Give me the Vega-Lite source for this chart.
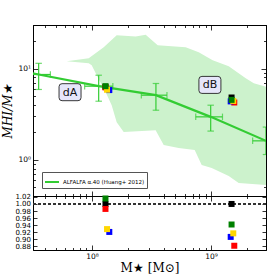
{
  "$schema": "https://vega.github.io/schema/vega-lite/v6.json",
  "background": "white",
  "padding": {"left": 0, "top": 20, "right": 4, "bottom": 0},
  "spacing": 0,
  "bounds": "flush",
  "resolve": {"legend": {"color": "independent", "fill": "independent"}},
  "config": {
    "view": {"stroke": "black", "strokeWidth": 1},
    "axis": {"labelFont": "DejaVu Sans", "labelFontSize": 7.5, "labelColor": "black", "domainColor": "black", "tickColor": "black", "grid": false, "titleFont": "DejaVu Serif", "titleFontWeight": "normal", "titleColor": "black", "labelOverlap": false, "tickWidth": 0.8, "domainWidth": 1}
  },
  "datasets": {
    "region": [
      {"i": 0, "m": 6.14e7, "r": 12.0}, {"i": 1, "m": 9.4e7, "r": 12.96}, {"i": 2, "m": 1.256e8, "r": 17.1},
      {"i": 3, "m": 1.615e8, "r": 23.1}, {"i": 4, "m": 2.33e8, "r": 22.5}, {"i": 5, "m": 2.83e8, "r": 23.5},
      {"i": 6, "m": 3.57e8, "r": 18.0}, {"i": 7, "m": 6.13e8, "r": 17.1}, {"i": 8, "m": 7.89e8, "r": 15.1},
      {"i": 9, "m": 1.034e9, "r": 12.3}, {"i": 10, "m": 1.41e9, "r": 10.6}, {"i": 11, "m": 1.96e9, "r": 7.83},
      {"i": 12, "m": 2.29e9, "r": 6.9}, {"i": 13, "m": 3.0e9, "r": 6.24}, {"i": 14, "m": 3.0e9, "r": 0.528},
      {"i": 15, "m": 1.71e9, "r": 0.555}, {"i": 16, "m": 1.41e9, "r": 0.662}, {"i": 17, "m": 1.015e9, "r": 0.81},
      {"i": 18, "m": 8.36e8, "r": 0.874}, {"i": 19, "m": 7.3e8, "r": 1.275}, {"i": 20, "m": 5.36e8, "r": 1.341},
      {"i": 21, "m": 4.01e8, "r": 1.446}, {"i": 22, "m": 3.43e8, "r": 2.11}, {"i": 23, "m": 1.85e8, "r": 2.01},
      {"i": 24, "m": 1.615e8, "r": 2.58}, {"i": 25, "m": 1.466e8, "r": 3.96}, {"i": 26, "m": 1.306e8, "r": 5.5},
      {"i": 27, "m": 1.097e8, "r": 8.44}, {"i": 28, "m": 9.96e7, "r": 10.86}, {"i": 29, "m": 9.4e7, "r": 11.42}
    ],
    "alfalfa": [
      {"survey": "ALFALFA α.40 (Huang+ 2012)", "m": 2.5e7, "r": 9.4},
      {"survey": "ALFALFA α.40 (Huang+ 2012)", "m": 3.57e7, "r": 8.6, "r_lo": 5.89, "r_hi": 11.4, "m_lo": 2.85e7, "m_hi": 4.48e7},
      {"survey": "ALFALFA α.40 (Huang+ 2012)", "m": 1.14e8, "r": 6.4, "r_lo": 4.38, "r_hi": 8.44, "m_lo": 8.69e7, "m_hi": 1.5e8},
      {"survey": "ALFALFA α.40 (Huang+ 2012)", "m": 3.45e8, "r": 5.1, "r_lo": 3.49, "r_hi": 6.85, "m_lo": 2.6e8, "m_hi": 4.27e8},
      {"survey": "ALFALFA α.40 (Huang+ 2012)", "m": 9.95e8, "r": 2.95, "r_lo": 2.06, "r_hi": 3.96, "m_lo": 7.45e8, "m_hi": 1.25e9},
      {"survey": "ALFALFA α.40 (Huang+ 2012)", "m": 2.9e9, "r": 1.61, "r_lo": 1.14, "r_hi": 2.28, "m_lo": 2.24e9, "m_hi": 3.75e9}
    ],
    "sims": [
      {"g": "dA", "run": "black", "m": 1.30e8, "r": 6.30, "rel": 1.0},
      {"g": "dA", "run": "red", "m": 1.30e8, "r": 6.21, "rel": 0.986},
      {"g": "dA", "run": "blue", "m": 1.40e8, "r": 5.80, "rel": 0.921},
      {"g": "dA", "run": "yellow", "m": 1.34e8, "r": 5.85, "rel": 0.929},
      {"g": "dA", "run": "green", "m": 1.30e8, "r": 6.40, "rel": 1.0155},
      {"g": "dB", "run": "black", "m": 1.49e9, "r": 4.81, "rel": 1.0},
      {"g": "dB", "run": "red", "m": 1.57e9, "r": 4.24, "rel": 0.882},
      {"g": "dB", "run": "blue", "m": 1.465e9, "r": 4.36, "rel": 0.907},
      {"g": "dB", "run": "yellow", "m": 1.54e9, "r": 4.41, "rel": 0.917},
      {"g": "dB", "run": "green", "m": 1.49e9, "r": 4.53, "rel": 0.942}
    ],
    "labels": [
      {"m": 6.55e7, "r": 5.5, "t": "dA"},
      {"m": 9.8e8, "r": 6.61, "t": "dB"}
    ]
  },
  "vconcat": [
    {
      "width": 233,
      "height": 171,
      "layer": [
        {
          "data": {"name": "region"},
          "mark": {"type": "line", "fill": "#ccf2cc", "strokeOpacity": 0, "interpolate": "linear-closed", "clip": true},
          "encoding": {
            "x": {"field": "m", "type": "quantitative", "scale": {"type": "log", "domain": [3.2e7, 2.9e9], "nice": false},
                  "axis": {"orient": "bottom", "title": null, "labels": false, "values": [4e7,5e7,6e7,7e7,8e7,9e7,1e8,2e8,3e8,4e8,5e8,6e8,7e8,8e8,9e8,1e9,2e9],
                           "tickSize": {"condition": {"test": "datum.value==1e8||datum.value==1e9", "value": -5}, "value": -2.5}}},
            "y": {"field": "r", "type": "quantitative", "scale": {"type": "log", "domain": [0.4, 30], "nice": false},
                  "axis": {"orient": "left", "title": "MHI/M★", "titleFontStyle": "italic", "titleFontSize": 12, "titleX": -19, "titleY": 85.5,
                           "values": [0.4,0.5,0.6,0.7,0.8,0.9,1,2,3,4,5,6,7,8,9,10,20,30],
                           "labelExpr": "datum.value==10?'10¹':(datum.value==1?'10⁰':'')", "labelPadding": 7.5,
                           "tickSize": {"condition": {"test": "datum.value==1||datum.value==10", "value": -5}, "value": -2.5}}},
            "order": {"field": "i", "type": "quantitative"}
          }
        },
        {
          "data": {"name": "alfalfa"},
          "mark": {"type": "line", "strokeWidth": 2.2, "clip": true},
          "encoding": {
            "x": {"field": "m", "type": "quantitative",
                  "axis": {"orient": "top", "title": null, "labels": false, "values": [4e7,5e7,6e7,7e7,8e7,9e7,1e8,2e8,3e8,4e8,5e8,6e8,7e8,8e8,9e8,1e9,2e9],
                           "tickSize": {"condition": {"test": "datum.value==1e8||datum.value==1e9", "value": -5}, "value": -2.5}}},
            "y": {"field": "r", "type": "quantitative",
                  "axis": {"orient": "right", "title": null, "labels": false, "values": [0.4,0.5,0.6,0.7,0.8,0.9,1,2,3,4,5,6,7,8,9,10,20,30],
                           "tickSize": {"condition": {"test": "datum.value==1||datum.value==10", "value": -5}, "value": -2.5}}},
            "color": {"field": "survey", "type": "nominal", "scale": {"range": ["#33cc33"]},
                      "legend": {"orient": "bottom-left", "offset": 8.5, "title": null, "labelFont": "DejaVu Sans", "labelFontSize": 5.5, "labelColor": "black",
                                 "symbolType": "stroke", "symbolStrokeWidth": 2, "symbolSize": 196, "strokeColor": "#555", "fillColor": "white",
                                 "padding": 2, "labelOffset": 3, "labelLimit": 200}}
          }
        },
        {
          "data": {"name": "alfalfa"},
          "transform": [{"filter": "datum.r_lo != null"}],
          "layer": [
            {"mark": {"type": "rule", "color": "#33cc33", "strokeWidth": 1.2, "clip": true},
             "encoding": {"x": {"field": "m", "type": "quantitative", "axis": null}, "y": {"field": "r_lo", "type": "quantitative", "axis": null}, "y2": {"field": "r_hi"}}},
            {"mark": {"type": "tick", "orient": "horizontal", "color": "#33cc33", "thickness": 1.2, "size": 6.5, "clip": true},
             "encoding": {"x": {"field": "m", "type": "quantitative", "axis": null}, "y": {"field": "r_lo", "type": "quantitative", "axis": null}}},
            {"mark": {"type": "tick", "orient": "horizontal", "color": "#33cc33", "thickness": 1.2, "size": 6.5, "clip": true},
             "encoding": {"x": {"field": "m", "type": "quantitative", "axis": null}, "y": {"field": "r_hi", "type": "quantitative", "axis": null}}},
            {"mark": {"type": "rule", "color": "#33cc33", "strokeWidth": 1.2, "clip": true},
             "encoding": {"y": {"field": "r", "type": "quantitative", "axis": null}, "x": {"field": "m_lo", "type": "quantitative", "axis": null}, "x2": {"field": "m_hi"}}},
            {"mark": {"type": "tick", "orient": "vertical", "color": "#33cc33", "thickness": 1.2, "size": 6.5, "clip": true},
             "encoding": {"x": {"field": "m_lo", "type": "quantitative", "axis": null}, "y": {"field": "r", "type": "quantitative", "axis": null}}},
            {"mark": {"type": "tick", "orient": "vertical", "color": "#33cc33", "thickness": 1.2, "size": 6.5, "clip": true},
             "encoding": {"x": {"field": "m_hi", "type": "quantitative", "axis": null}, "y": {"field": "r", "type": "quantitative", "axis": null}}}
          ]
        },
        {
          "data": {"name": "sims"},
          "mark": {"type": "point", "shape": "square", "filled": true, "size": 36, "opacity": 1, "strokeWidth": 0},
          "encoding": {
            "x": {"field": "m", "type": "quantitative", "axis": null},
            "y": {"field": "r", "type": "quantitative", "axis": null},
            "fill": {"field": "run", "type": "nominal", "legend": null,
                     "scale": {"domain": ["black", "red", "blue", "yellow", "green"], "range": ["#000000", "#ff0000", "#0000ff", "#ffd700", "#008000"]}}
          }
        },
        {
          "data": {"name": "labels"},
          "mark": {"type": "point", "filled": true, "fill": "#e6e6fa", "stroke": "#222222", "strokeWidth": 0.9, "opacity": 1, "size": 484,
                   "shape": "M-0.727,-0.773 L0.727,-0.773 Q1,-0.773 1,-0.5 L1,0.5 Q1,0.773 0.727,0.773 L-0.727,0.773 Q-1,0.773 -1,0.5 L-1,-0.5 Q-1,-0.773 -0.727,-0.773 Z"},
          "encoding": {
            "x": {"field": "m", "type": "quantitative", "axis": null},
            "y": {"field": "r", "type": "quantitative", "axis": null}
          }
        },
        {
          "data": {"name": "labels"},
          "mark": {"type": "text", "font": "DejaVu Sans", "fontSize": 11, "color": "#111111", "align": "center", "baseline": "middle", "dy": 0.5},
          "encoding": {
            "x": {"field": "m", "type": "quantitative", "axis": null},
            "y": {"field": "r", "type": "quantitative", "axis": null},
            "text": {"field": "t"}
          }
        }
      ],
      "resolve": {"axis": {"x": "independent", "y": "independent"}}
    },
    {
      "width": 233,
      "height": 54,
      "data": {"name": "sims"},
      "layer": [
        {
          "mark": {"type": "rule", "strokeDash": [3, 2], "color": "#333333", "strokeWidth": 1.1},
          "encoding": {"y": {"datum": 1, "type": "quantitative", "axis": null}}
        },
        {
          "mark": {"type": "point", "shape": "square", "filled": true, "size": 36, "opacity": 1, "strokeWidth": 0},
          "encoding": {
            "x": {"field": "m", "type": "quantitative", "scale": {"type": "log", "domain": [3.2e7, 2.9e9], "nice": false},
                  "axis": {"orient": "bottom", "title": "M★ [M⊙]", "titleFontSize": 12, "titlePadding": 0,
                           "values": [4e7,5e7,6e7,7e7,8e7,9e7,1e8,2e8,3e8,4e8,5e8,6e8,7e8,8e8,9e8,1e9,2e9],
                           "labelExpr": "datum.value==1e8?'10⁸':(datum.value==1e9?'10⁹':'')", "labelPadding": 7,
                           "tickSize": {"condition": {"test": "datum.value==1e8||datum.value==1e9", "value": -5}, "value": -2.5}}},
            "y": {"field": "rel", "type": "quantitative", "scale": {"domain": [0.87, 1.0225], "nice": false, "zero": false},
                  "axis": {"orient": "left", "title": null, "values": [0.88,0.9,0.92,0.94,0.96,0.98,1.0,1.02], "format": ".2f",
                           "labelPadding": 6.5, "labelFontSize": 7, "tickSize": -4}},
            "fill": {"field": "run", "type": "nominal", "legend": null,
                     "scale": {"domain": ["black", "red", "blue", "yellow", "green"], "range": ["#000000", "#ff0000", "#0000ff", "#ffd700", "#008000"]}}
          }
        },
        {
          "mark": {"type": "point", "opacity": 0},
          "encoding": {
            "x": {"field": "m", "type": "quantitative",
                  "axis": {"orient": "top", "title": null, "labels": false,
                           "values": [4e7,5e7,6e7,7e7,8e7,9e7,1e8,2e8,3e8,4e8,5e8,6e8,7e8,8e8,9e8,1e9,2e9],
                           "tickSize": {"condition": {"test": "datum.value==1e8||datum.value==1e9", "value": -5}, "value": -2.5}}},
            "y": {"field": "rel", "type": "quantitative",
                  "axis": {"orient": "right", "title": null, "labels": false, "values": [0.88,0.9,0.92,0.94,0.96,0.98,1.0,1.02], "tickSize": -4}}
          }
        }
      ],
      "resolve": {"axis": {"x": "independent", "y": "independent"}}
    }
  ]
}
